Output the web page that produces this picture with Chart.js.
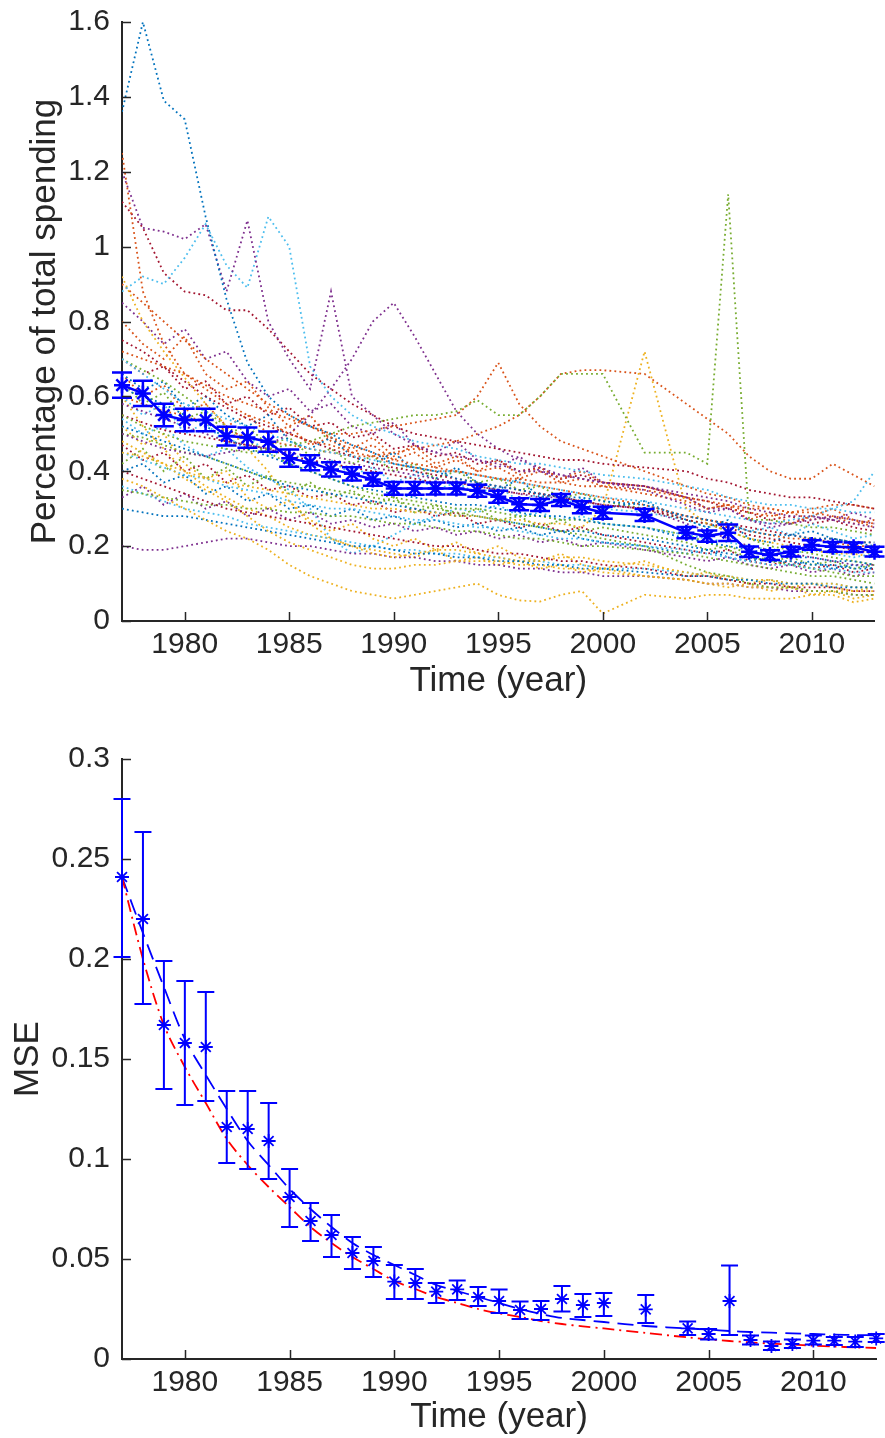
<!DOCTYPE html>
<html lang="en-US">
<head>
<meta charset="UTF-8">
<title>Spending share and MSE</title>
<script src="https://cdn.jsdelivr.net/npm/chart.js@4.4.1/dist/chart.umd.min.js"></script>
<style>
    html, body { margin: 0; padding: 0; background: #fff; overflow: hidden; }
    #top { position: absolute; left: 0; top: 0; }
    #bottom { position: absolute; left: 0; top: 720px; }
</style>
</head>
<body>
<canvas id="top" width="885" height="720"></canvas>
<canvas id="bottom" width="885" height="718"></canvas>

<script>
    // years with data (2001 and 2003 are missing)
    var years = [1977, 1978, 1979, 1980, 1981, 1982, 1983, 1984, 1985, 1986, 1987, 1988, 1989,
        1990, 1991, 1992, 1993, 1994, 1995, 1996, 1997, 1998, 1999, 2000, 2002,
        2004, 2005, 2006, 2007, 2008, 2009, 2010, 2011, 2012, 2013];

    var xTicks = [1980, 1985, 1990, 1995, 2000, 2005, 2010];
    var shareTicks = [0, 0.2, 0.4, 0.6, 0.8, 1, 1.2, 1.4, 1.6];
    var mseTicks = [0, 0.05, 0.1, 0.15, 0.2, 0.25, 0.3];

    // mean share and its error
    var meanShare = [0.630, 0.608, 0.550, 0.537, 0.537, 0.494, 0.490, 0.479, 0.435, 0.423, 0.405, 0.393, 0.378,
        0.354, 0.354, 0.354, 0.354, 0.348, 0.332, 0.312, 0.310, 0.323, 0.304, 0.289, 0.283,
        0.236, 0.227, 0.236, 0.185, 0.176, 0.185, 0.203, 0.198, 0.197, 0.185];
    var meanErr = [0.034, 0.034, 0.030, 0.030, 0.030, 0.025, 0.027, 0.027, 0.023, 0.020, 0.019, 0.018, 0.017,
        0.017, 0.017, 0.016, 0.016, 0.016, 0.016, 0.016, 0.016, 0.016, 0.016, 0.016, 0.016,
        0.015, 0.015, 0.022, 0.014, 0.013, 0.013, 0.013, 0.013, 0.013, 0.013];

    // individual series (dotted lines)
    var regionShares = [
        [1.36,1.60,1.39,1.34,1.08,0.86,0.69,0.60,0.55,0.52,0.50,0.47,0.45,0.42,0.41,0.40,0.38,0.37,0.36,0.35,0.34,0.33,0.33,0.32,0.31,0.28,0.27,0.26,0.24,0.23,0.23,0.22,0.22,0.21,0.21],
        [1.25,0.88,0.74,0.66,0.62,0.58,0.55,0.53,0.50,0.48,0.47,0.45,0.44,0.42,0.41,0.40,0.40,0.39,0.38,0.37,0.36,0.35,0.34,0.33,0.31,0.28,0.27,0.26,0.24,0.23,0.22,0.22,0.21,0.20,0.20],
        [0.38,0.36,0.33,0.30,0.27,0.24,0.22,0.19,0.15,0.12,0.10,0.08,0.07,0.06,0.07,0.08,0.09,0.10,0.07,0.055,0.052,0.07,0.08,0.02,0.07,0.06,0.07,0.07,0.06,0.06,0.06,0.07,0.07,0.05,0.06],
        [1.20,1.05,1.04,1.02,1.06,0.88,1.07,0.80,0.70,0.62,0.88,0.60,0.55,0.50,0.47,0.45,0.44,0.43,0.42,0.40,0.40,0.39,0.38,0.37,0.36,0.33,0.30,0.30,0.27,0.26,0.26,0.27,0.28,0.27,0.26],
        [0.55,0.52,0.50,0.48,0.47,0.46,0.45,0.46,0.47,0.48,0.50,0.52,0.53,0.54,0.55,0.55,0.56,0.59,0.55,0.55,0.60,0.66,0.66,0.66,0.45,0.45,0.42,1.14,0.27,0.27,0.26,0.25,0.25,0.24,0.23],
        [0.88,0.92,0.90,0.97,1.06,0.95,0.89,1.08,1.00,0.68,0.60,0.55,0.52,0.50,0.48,0.47,0.46,0.44,0.43,0.42,0.42,0.41,0.40,0.39,0.38,0.36,0.35,0.33,0.32,0.31,0.31,0.30,0.30,0.29,0.29],
        [1.12,1.05,0.93,0.88,0.87,0.83,0.83,0.78,0.72,0.66,0.62,0.58,0.55,0.52,0.50,0.49,0.48,0.47,0.46,0.45,0.44,0.43,0.43,0.42,0.41,0.40,0.38,0.37,0.35,0.34,0.33,0.33,0.32,0.31,0.30],
        [0.62,0.60,0.58,0.55,0.52,0.49,0.46,0.44,0.42,0.40,0.38,0.36,0.35,0.34,0.33,0.32,0.31,0.31,0.30,0.29,0.28,0.28,0.27,0.26,0.25,0.22,0.21,0.20,0.19,0.18,0.17,0.17,0.16,0.16,0.15],
        [0.72,0.70,0.68,0.66,0.63,0.60,0.58,0.56,0.54,0.52,0.50,0.50,0.51,0.52,0.53,0.54,0.55,0.60,0.69,0.58,0.52,0.48,0.46,0.44,0.40,0.36,0.34,0.33,0.31,0.30,0.29,0.29,0.28,0.27,0.26],
        [0.45,0.44,0.42,0.40,0.38,0.37,0.36,0.35,0.34,0.33,0.32,0.31,0.30,0.30,0.29,0.29,0.28,0.28,0.27,0.27,0.26,0.26,0.25,0.30,0.72,0.30,0.26,0.24,0.22,0.21,0.20,0.19,0.18,0.18,0.17],
        [0.50,0.48,0.46,0.45,0.44,0.45,0.46,0.47,0.50,0.55,0.62,0.70,0.80,0.85,0.76,0.66,0.56,0.50,0.46,0.43,0.41,0.39,0.38,0.37,0.36,0.34,0.33,0.32,0.30,0.29,0.28,0.28,0.27,0.26,0.25],
        [0.50,0.49,0.47,0.45,0.44,0.42,0.40,0.38,0.37,0.36,0.35,0.34,0.33,0.32,0.31,0.30,0.29,0.28,0.27,0.26,0.25,0.24,0.23,0.22,0.20,0.15,0.13,0.12,0.10,0.09,0.09,0.08,0.08,0.07,0.07],
        [0.70,0.66,0.62,0.58,0.56,0.54,0.52,0.50,0.48,0.46,0.45,0.44,0.43,0.42,0.41,0.40,0.40,0.39,0.38,0.37,0.36,0.35,0.34,0.33,0.32,0.30,0.29,0.28,0.27,0.26,0.27,0.28,0.30,0.32,0.40],
        [0.40,0.38,0.36,0.34,0.32,0.30,0.29,0.28,0.27,0.26,0.25,0.24,0.23,0.22,0.21,0.20,0.20,0.19,0.18,0.18,0.17,0.16,0.16,0.15,0.14,0.12,0.12,0.11,0.10,0.10,0.09,0.09,0.09,0.08,0.08],
        [0.52,0.50,0.48,0.46,0.44,0.42,0.40,0.38,0.36,0.35,0.34,0.33,0.32,0.31,0.30,0.29,0.28,0.28,0.27,0.26,0.25,0.24,0.24,0.23,0.22,0.20,0.19,0.18,0.17,0.16,0.16,0.15,0.15,0.14,0.14],
        [0.60,0.58,0.56,0.55,0.53,0.51,0.49,0.48,0.47,0.46,0.45,0.44,0.44,0.45,0.46,0.47,0.48,0.50,0.52,0.55,0.60,0.66,0.67,0.67,0.66,0.58,0.54,0.50,0.44,0.40,0.38,0.38,0.42,0.39,0.36],
        [0.48,0.45,0.42,0.38,0.35,0.32,0.28,0.24,0.21,0.19,0.17,0.15,0.14,0.14,0.15,0.15,0.16,0.16,0.16,0.15,0.15,0.14,0.14,0.13,0.12,0.11,0.10,0.10,0.09,0.09,0.09,0.08,0.08,0.08,0.08],
        [0.58,0.56,0.54,0.52,0.50,0.48,0.47,0.46,0.45,0.44,0.43,0.42,0.41,0.40,0.39,0.38,0.37,0.36,0.35,0.34,0.33,0.33,0.32,0.31,0.30,0.26,0.24,0.22,0.20,0.19,0.18,0.17,0.16,0.15,0.15],
        [0.35,0.34,0.33,0.32,0.31,0.31,0.30,0.30,0.29,0.29,0.28,0.28,0.27,0.26,0.26,0.25,0.24,0.24,0.23,0.22,0.22,0.21,0.20,0.20,0.19,0.18,0.17,0.16,0.15,0.14,0.13,0.12,0.12,0.11,0.10],
        [0.45,0.43,0.41,0.39,0.38,0.36,0.35,0.34,0.32,0.31,0.30,0.30,0.29,0.28,0.27,0.27,0.26,0.25,0.25,0.24,0.23,0.22,0.22,0.21,0.20,0.19,0.18,0.17,0.16,0.15,0.15,0.14,0.14,0.13,0.13],
        [0.75,0.72,0.68,0.64,0.60,0.57,0.54,0.52,0.50,0.48,0.46,0.44,0.42,0.41,0.40,0.39,0.38,0.37,0.36,0.35,0.34,0.33,0.32,0.31,0.30,0.27,0.26,0.25,0.23,0.22,0.21,0.20,0.20,0.19,0.18],
        [0.30,0.29,0.28,0.28,0.27,0.26,0.25,0.24,0.23,0.22,0.21,0.20,0.20,0.19,0.18,0.18,0.17,0.17,0.16,0.16,0.15,0.15,0.14,0.14,0.13,0.12,0.12,0.11,0.11,0.10,0.10,0.10,0.09,0.09,0.09],
        [0.90,0.85,0.80,0.75,0.70,0.66,0.62,0.58,0.55,0.52,0.49,0.47,0.45,0.43,0.42,0.41,0.40,0.39,0.38,0.38,0.37,0.37,0.36,0.36,0.35,0.33,0.32,0.31,0.30,0.30,0.29,0.30,0.31,0.31,0.30],
        [0.92,0.80,0.72,0.65,0.58,0.52,0.46,0.40,0.32,0.26,0.22,0.20,0.18,0.17,0.18,0.19,0.19,0.18,0.17,0.16,0.16,0.17,0.17,0.16,0.15,0.13,0.12,0.12,0.11,0.11,0.10,0.10,0.10,0.09,0.09],
        [0.20,0.19,0.19,0.20,0.21,0.22,0.22,0.21,0.20,0.20,0.19,0.18,0.18,0.17,0.17,0.16,0.16,0.15,0.15,0.14,0.14,0.13,0.13,0.12,0.12,0.11,0.10,0.10,0.09,0.09,0.08,0.08,0.08,0.07,0.07],
        [0.70,0.67,0.64,0.60,0.56,0.52,0.48,0.45,0.42,0.40,0.38,0.36,0.34,0.33,0.32,0.31,0.30,0.30,0.29,0.28,0.28,0.27,0.27,0.26,0.25,0.23,0.21,0.19,0.17,0.16,0.15,0.14,0.13,0.12,0.12],
        [0.36,0.34,0.32,0.30,0.29,0.28,0.26,0.25,0.24,0.23,0.22,0.21,0.20,0.19,0.19,0.18,0.18,0.17,0.17,0.16,0.16,0.15,0.15,0.14,0.14,0.13,0.12,0.12,0.11,0.11,0.10,0.10,0.10,0.09,0.09],
        [0.55,0.53,0.51,0.50,0.49,0.48,0.47,0.46,0.44,0.43,0.42,0.41,0.40,0.39,0.38,0.37,0.37,0.36,0.35,0.34,0.34,0.33,0.32,0.31,0.30,0.28,0.27,0.26,0.25,0.24,0.23,0.22,0.22,0.21,0.21],
        [0.66,0.62,0.64,0.57,0.60,0.55,0.52,0.55,0.48,0.46,0.49,0.44,0.42,0.45,0.40,0.38,0.41,0.37,0.35,0.38,0.33,0.34,0.31,0.30,0.32,0.27,0.25,0.27,0.22,0.21,0.23,0.24,0.22,0.21,0.20],
        [0.80,0.74,0.70,0.76,0.66,0.62,0.64,0.57,0.52,0.55,0.48,0.46,0.49,0.44,0.47,0.42,0.44,0.40,0.43,0.39,0.41,0.38,0.40,0.37,0.36,0.33,0.30,0.31,0.27,0.29,0.26,0.28,0.30,0.27,0.25],
        [0.52,0.47,0.50,0.42,0.38,0.40,0.33,0.30,0.32,0.27,0.24,0.26,0.22,0.20,0.22,0.19,0.21,0.18,0.20,0.17,0.16,0.18,0.15,0.14,0.16,0.12,0.13,0.11,0.10,0.11,0.09,0.10,0.09,0.08,0.09],
        [0.85,0.80,0.74,0.78,0.70,0.72,0.64,0.60,0.62,0.56,0.58,0.52,0.50,0.53,0.47,0.45,0.48,0.43,0.41,0.44,0.40,0.38,0.41,0.37,0.35,0.31,0.29,0.30,0.27,0.25,0.26,0.28,0.27,0.29,0.27],
        [0.42,0.46,0.40,0.44,0.38,0.41,0.36,0.39,0.34,0.37,0.33,0.35,0.31,0.33,0.29,0.31,0.28,0.30,0.27,0.28,0.25,0.27,0.24,0.25,0.23,0.21,0.19,0.20,0.18,0.16,0.17,0.15,0.16,0.14,0.15],
        [0.60,0.55,0.58,0.50,0.53,0.47,0.50,0.44,0.46,0.41,0.43,0.39,0.41,0.37,0.39,0.35,0.37,0.34,0.36,0.32,0.34,0.31,0.33,0.30,0.29,0.27,0.25,0.26,0.24,0.25,0.23,0.26,0.24,0.22,0.23],
        [0.47,0.43,0.45,0.40,0.42,0.37,0.39,0.35,0.36,0.33,0.34,0.31,0.32,0.29,0.30,0.28,0.29,0.26,0.27,0.25,0.26,0.24,0.25,0.23,0.21,0.19,0.18,0.19,0.16,0.15,0.16,0.14,0.15,0.13,0.14],
        [0.40,0.42,0.37,0.39,0.34,0.36,0.32,0.34,0.30,0.31,0.28,0.30,0.27,0.28,0.26,0.27,0.25,0.26,0.24,0.25,0.23,0.24,0.22,0.21,0.20,0.18,0.19,0.17,0.16,0.17,0.15,0.16,0.14,0.15,0.14],
        [0.66,0.60,0.63,0.56,0.58,0.52,0.55,0.50,0.52,0.47,0.49,0.45,0.47,0.43,0.45,0.41,0.43,0.40,0.41,0.38,0.40,0.37,0.38,0.36,0.34,0.32,0.30,0.31,0.29,0.28,0.29,0.27,0.28,0.26,0.27],
        [0.60,0.52,0.46,0.40,0.36,0.33,0.30,0.28,0.25,0.23,0.22,0.20,0.19,0.18,0.17,0.19,0.16,0.17,0.15,0.16,0.14,0.15,0.13,0.14,0.12,0.11,0.10,0.09,0.10,0.08,0.09,0.07,0.08,0.06,0.07],
        [0.33,0.36,0.31,0.34,0.30,0.32,0.28,0.30,0.27,0.29,0.26,0.27,0.25,0.26,0.24,0.25,0.23,0.24,0.22,0.23,0.21,0.22,0.20,0.21,0.19,0.17,0.16,0.17,0.15,0.14,0.15,0.13,0.14,0.12,0.13],
        [0.64,0.58,0.61,0.54,0.56,0.50,0.52,0.47,0.49,0.44,0.46,0.42,0.44,0.40,0.42,0.38,0.40,0.37,0.38,0.35,0.36,0.33,0.34,0.32,0.30,0.27,0.26,0.24,0.22,0.20,0.19,0.18,0.17,0.16,0.15],
        [0.54,0.50,0.52,0.47,0.44,0.46,0.41,0.38,0.35,0.30,0.22,0.18,0.20,0.23,0.26,0.28,0.30,0.29,0.31,0.28,0.29,0.27,0.28,0.26,0.25,0.23,0.22,0.21,0.20,0.19,0.18,0.19,0.18,0.17,0.18],
        [0.70,0.66,0.68,0.62,0.64,0.58,0.60,0.55,0.57,0.52,0.53,0.49,0.50,0.46,0.47,0.44,0.45,0.42,0.43,0.40,0.41,0.38,0.39,0.37,0.36,0.33,0.32,0.30,0.29,0.27,0.28,0.26,0.27,0.25,0.24]
    ];

    // MSE with error bars, and the two fitted curves
    var mse = [0.241, 0.220, 0.167, 0.158, 0.156, 0.116, 0.115, 0.109, 0.081, 0.069, 0.062, 0.053, 0.049,
        0.0387, 0.038, 0.0337, 0.0348, 0.031, 0.029, 0.0245, 0.025, 0.030, 0.027, 0.028, 0.0248,
        0.0153, 0.0125, 0.029, 0.0095, 0.0065, 0.0075, 0.0092, 0.0092, 0.0087, 0.0103];
    var mseHi = [0.280, 0.2635, 0.199, 0.189, 0.1835, 0.134, 0.134, 0.128, 0.095, 0.078, 0.072, 0.061, 0.056,
        0.047, 0.045, 0.038, 0.0392, 0.036, 0.0347, 0.0287, 0.029, 0.0365, 0.0325, 0.033, 0.032,
        0.0187, 0.015, 0.0467, 0.0117, 0.0087, 0.0097, 0.0117, 0.011, 0.011, 0.0125];
    var mseLo = [0.201, 0.1775, 0.135, 0.127, 0.129, 0.098, 0.095, 0.090, 0.066, 0.059, 0.051, 0.045, 0.041,
        0.030, 0.030, 0.028, 0.0295, 0.0265, 0.023, 0.020, 0.0195, 0.0237, 0.021, 0.0215, 0.018,
        0.012, 0.0098, 0.012, 0.0073, 0.0045, 0.0055, 0.0072, 0.007, 0.006, 0.0085];
    var fitBlue = [0.241, 0.213, 0.186, 0.160, 0.142, 0.125, 0.109, 0.097, 0.085, 0.075, 0.066, 0.058, 0.052,
        0.047, 0.042, 0.037, 0.034, 0.031, 0.028, 0.025, 0.0225, 0.0205, 0.0195, 0.0185, 0.0165,
        0.0153, 0.0147, 0.014, 0.0135, 0.0132, 0.0128, 0.0125, 0.0122, 0.012, 0.0118];
    var fitRed = [0.241, 0.200, 0.167, 0.146, 0.128, 0.110, 0.097, 0.086, 0.076, 0.066, 0.058, 0.051, 0.045,
        0.039, 0.035, 0.031, 0.028, 0.025, 0.0228, 0.021, 0.019, 0.0175, 0.0163, 0.0153, 0.013,
        0.0108, 0.0098, 0.009, 0.0083, 0.0077, 0.0072, 0.0067, 0.0062, 0.0058, 0.0055];

    var palette = ['#0072BD', '#D95319', '#EDB120', '#7E2F8E', '#77AC30', '#4DBEEE', '#A2142F'];
    var axisColor = '#262626';
    var fontFamily = '"Liberation Sans", Arial, sans-serif';

    function toPoints(vals) {
        return years.map(function (yr, i) { return { x: yr, y: vals[i] }; });
    }

    // error bars drawn through the chart's own scales
    var errorBars = {
        id: 'errorBars',
        afterDatasetsDraw: function (chart) {
            var ctx = chart.ctx, xs = chart.scales.x, ys = chart.scales.y;
            chart.data.datasets.forEach(function (ds) {
                if (!ds.errLo) return;
                ctx.save();
                ctx.strokeStyle = ds.pointBorderColor;
                ctx.lineWidth = ds.errWidth;
                ctx.beginPath();
                ds.data.forEach(function (p, j) {
                    var px = xs.getPixelForValue(p.x);
                    var lo = ys.getPixelForValue(ds.errLo[j]);
                    var hi = ys.getPixelForValue(ds.errHi[j]);
                    ctx.moveTo(px, lo); ctx.lineTo(px, hi);
                    ctx.moveTo(px - ds.errCap, lo); ctx.lineTo(px + ds.errCap, lo);
                    ctx.moveTo(px - ds.errCap, hi); ctx.lineTo(px + ds.errCap, hi);
                });
                ctx.stroke();
                ctx.restore();
            });
        }
    };

    // matlab style ticks pointing into the plot
    var inwardTicks = {
        id: 'inwardTicks',
        afterDraw: function (chart) {
            var ctx = chart.ctx, a = chart.chartArea;
            ctx.save();
            ctx.strokeStyle = axisColor;
            ctx.lineWidth = 1.5;
            ctx.beginPath();
            chart.scales.x.ticks.forEach(function (t) {
                var px = Math.round(chart.scales.x.getPixelForValue(t.value)) + 0.5;
                ctx.moveTo(px, a.bottom); ctx.lineTo(px, a.bottom - 9);
            });
            chart.scales.y.ticks.forEach(function (t) {
                var py = Math.round(chart.scales.y.getPixelForValue(t.value)) + 0.5;
                ctx.moveTo(a.left, py); ctx.lineTo(a.left + 9, py);
            });
            ctx.stroke();
            ctx.restore();
        }
    };

    function noPad(s) {
        s.paddingTop = 0; s.paddingBottom = 0; s.paddingLeft = 0; s.paddingRight = 0;
    }

    function makeScales(yTicks, yMax, yTitle, yTitlePad, xHeight, xTitlePad) {
        return {
            x: {
                type: 'linear', min: 1977, max: 2013,
                afterBuildTicks: function (s) { s.ticks = xTicks.map(function (v) { return { value: v }; }); },
                afterFit: function (s) { s.height = xHeight; noPad(s); },
                grid: { display: false, drawTicks: false },
                border: { display: true, color: axisColor, width: 2 },
                ticks: {
                    padding: 6, color: axisColor, maxRotation: 0, autoSkip: false,
                    font: { family: fontFamily, size: 30 },
                    callback: function (v) { return String(v); }
                },
                title: {
                    display: true, text: 'Time (year)', color: axisColor,
                    font: { family: fontFamily, size: 35 },
                    padding: { top: 0, bottom: xTitlePad }
                }
            },
            y: {
                type: 'linear', min: 0, max: yMax,
                afterBuildTicks: function (s) { s.ticks = yTicks.map(function (v) { return { value: v }; }); },
                afterFit: function (s) { s.width = 122; noPad(s); },
                grid: { display: false, drawTicks: false },
                border: { display: true, color: axisColor, width: 2 },
                ticks: {
                    padding: 12, color: axisColor, autoSkip: false,
                    font: { family: fontFamily, size: 30 },
                    callback: function (v) { return String(v); }
                },
                title: {
                    display: true, text: yTitle, color: axisColor,
                    font: { family: fontFamily, size: 35 },
                    padding: { top: yTitlePad, bottom: 0 }
                }
            }
        };
    }

    var commonPlugins = {
        legend: { display: false },
        tooltip: { enabled: false }
    };

    // top chart: every series dotted, mean with error bars
    var topSets = regionShares.map(function (vals, i) {
        return {
            data: toPoints(vals),
            borderColor: palette[i % palette.length],
            borderWidth: 1.8,
            borderDash: [1.8, 3.2],
            pointRadius: 0,
            tension: 0,
            order: 2
        };
    });
    topSets.push({
        data: toPoints(meanShare),
        borderColor: '#0000FF',
        borderWidth: 2.5,
        pointStyle: 'star',
        pointRadius: 8,
        pointBorderWidth: 2.5,
        pointBorderColor: '#0000FF',
        pointBackgroundColor: '#0000FF',
        tension: 0,
        clip: false,
        order: 0,
        errLo: meanShare.map(function (v, i) { return v - meanErr[i]; }),
        errHi: meanShare.map(function (v, i) { return v + meanErr[i]; }),
        errCap: 10,
        errWidth: 2.5
    });

    new Chart(document.getElementById('top'), {
        type: 'line',
        data: { datasets: topSets },
        options: {
            responsive: false,
            animation: false,
            events: [],
            layout: { padding: { top: 22, right: 3, left: 0, bottom: 0 } },
            scales: makeScales(shareTicks, 1.6, 'Percentage of total spending', 24, 99, 18),
            plugins: commonPlugins
        },
        plugins: [errorBars, inwardTicks]
    });

    // bottom chart: MSE markers, fitted curves
    new Chart(document.getElementById('bottom'), {
        type: 'line',
        data: {
            datasets: [
                {
                    data: toPoints(mse),
                    showLine: false,
                    pointStyle: 'star',
                    pointRadius: 7,
                    pointBorderWidth: 1.8,
                    pointBorderColor: '#0000FF',
                    pointBackgroundColor: '#0000FF',
                    borderColor: '#0000FF',
                    clip: false,
                    order: 0,
                    errLo: mseLo,
                    errHi: mseHi,
                    errCap: 8.5,
                    errWidth: 2
                },
                {
                    data: toPoints(fitBlue),
                    borderColor: '#0000FF',
                    borderWidth: 1.8,
                    borderDash: [16, 8],
                    pointRadius: 0,
                    tension: 0.3,
                    order: 2
                },
                {
                    data: toPoints(fitRed),
                    borderColor: '#FF0000',
                    borderWidth: 1.8,
                    borderDash: [12, 5, 2, 5],
                    pointRadius: 0,
                    tension: 0.3,
                    order: 1
                }
            ]
        },
        options: {
            responsive: false,
            animation: false,
            events: [],
            layout: { padding: { top: 39, right: 3, left: 0, bottom: 0 } },
            scales: makeScales(mseTicks, 0.3, 'MSE', 7, 79, 0),
            plugins: commonPlugins
        },
        plugins: [errorBars, inwardTicks]
    });
</script>
</body>
</html>
